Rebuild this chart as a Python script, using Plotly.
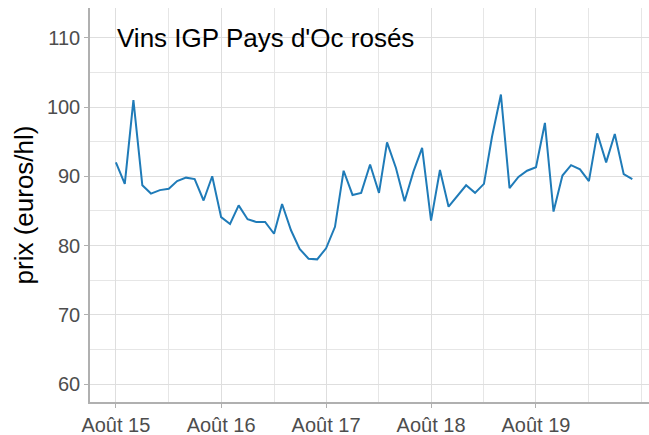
import plotly.graph_objects as go
import pandas as pd

start_month = "2015-08-01"
prix = [92.0, 88.9, 101.0, 88.7, 87.5,
        88.0, 88.2, 89.3, 89.8, 89.6, 86.5, 90.0,
        84.1, 83.1, 85.8, 83.8, 83.4,
        83.4, 81.7, 86.0, 82.2, 79.5, 78.1, 78.0,
        79.6, 82.7, 90.8, 87.3, 87.6,
        91.7, 87.6, 94.9, 91.2, 86.4, 90.7, 94.1,
        83.6, 90.9, 85.6, 87.2, 88.7,
        87.6, 88.9, 95.7, 101.8, 88.3, 89.9, 90.8,
        91.3, 97.7, 84.9, 90.1, 91.6,
        91.0, 89.3, 96.2, 92.0, 96.1, 90.3, 89.6]
dates = pd.date_range(start_month, periods=len(prix), freq="MS")

tick_dates = ["2015-08-01", "2016-08-01", "2017-08-01", "2018-08-01", "2019-08-01"]
tick_labels = ["Août 15", "Août 16", "Août 17", "Août 18", "Août 19"]
minor_dates = ["2015-02-01", "2016-02-01", "2017-02-01", "2018-02-01", "2019-02-01",
               "2020-02-01", "2020-08-01"]
y_ticks = [60, 70, 80, 90, 100, 110]
y_minor = [55, 65, 75, 85, 95, 105, 115]
title_text = "Vins IGP Pays d'Oc rosés"

fig = go.Figure()
fig.add_trace(go.Scatter(x=dates, y=prix, mode="lines",
                         line=dict(color="#1f7bb8", width=2), hoverinfo="x+y"))

grid = "#dedede"
fig.update_layout(
    width=649, height=435,
    margin=dict(l=90, r=0, t=8, b=33),
    plot_bgcolor="white", paper_bgcolor="white",
    showlegend=False,
    font=dict(family="Liberation Sans, Arial, sans-serif"),
    xaxis=dict(
        type="date",
        range=["2015-05-03", "2020-08-28"],
        tickmode="array", tickvals=tick_dates, ticktext=tick_labels,
        tickfont=dict(size=20, color="#4d4d4d"),
        ticks="outside", ticklen=4, tickcolor="#b0b0b0",
        showline=True, linecolor="#b0b0b0", linewidth=1.5,
        showgrid=True, gridcolor=grid, gridwidth=1,
        minor=dict(tickmode="array", tickvals=minor_dates, showgrid=True,
                   gridcolor="#e6e6e6", gridwidth=1, ticks=""),
        zeroline=False,
    ),
    yaxis=dict(
        range=[57.4, 114.3],
        tickmode="array", tickvals=y_ticks,
        tickfont=dict(size=20, color="#4d4d4d"),
        ticks="outside", ticklen=4, tickcolor="#b0b0b0",
        showline=True, linecolor="#b0b0b0", linewidth=1.5,
        showgrid=True, gridcolor=grid, gridwidth=1,
        minor=dict(tickmode="array", tickvals=y_minor, showgrid=True,
                   gridcolor="#e6e6e6", gridwidth=1, ticks=""),
        zeroline=False,
        title=dict(text="prix (euros/hl)", font=dict(size=26, color="black"), standoff=6),
    ),
)

fig.add_annotation(x="2015-08-01", y=110, xref="x", yref="y", text=title_text,
                   showarrow=False, xanchor="left", yanchor="middle", xshift=-1,
                   font=dict(size=26, color="black"))

fig.write_html("out.html", config={"displayModeBar": False},
               post_script="document.body.style.margin='0';")
